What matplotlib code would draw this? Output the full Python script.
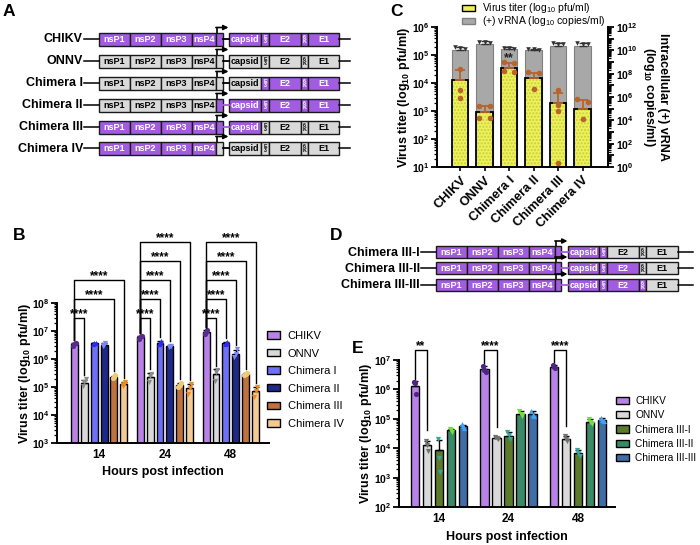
import numpy as np
import matplotlib
matplotlib.use("Agg")
import matplotlib.pyplot as plt
from matplotlib.patches import Rectangle, Patch
from matplotlib.ticker import LogLocator, FuncFormatter, NullFormatter

W, H = 700, 545
plt.rcParams['font.family'] = ['Liberation Sans', 'DejaVu Sans']
plt.rcParams['mathtext.fontset'] = 'custom'
plt.rcParams['mathtext.rm'] = 'Liberation Sans'
plt.rcParams['mathtext.bf'] = 'Liberation Sans:bold'
plt.rcParams['mathtext.it'] = 'Liberation Sans:italic'

# ---------------- data ----------------
seg_labels = ["nsP1", "nsP2", "nsP3", "nsP4", "", "", "capsid", "E3", "E2", "6K", "E1"]
a_constructs = ["CHIKV", "ONNV", "Chimera I", "Chimera II", "Chimera III", "Chimera IV"]
a_origin = ["CCCCCOCCCCC", "OOOOOOOOOOO", "OOOOOOOCCCC",
            "OOOOCCCCCCC", "CCCCCCCOOOO", "CCCCOOOOOOO"]
d_constructs = ["Chimera III-I", "Chimera III-II", "Chimera III-III"]
d_origin = ["CCCCCCCCOOO", "CCCCCCCCCOO", "CCCCCCCCCCO"]

hours = ["14", "24", "48"]

b_viruses = ["CHIKV", "ONNV", "Chimera I", "Chimera II", "Chimera III", "Chimera IV"]
b_means = [[3.4e6, 6.0e6, 9.5e6],
           [1.4e5, 2.3e5, 3.0e5],
           [3.6e6, 3.8e6, 3.7e6],
           [3.2e6, 2.8e6, 1.5e6],
           [2.3e5, 1.2e5, 2.9e5],
           [1.3e5, 9.0e4, 7.0e4]]
b_reps = [[[3.0e6, 3.5e6, 3.7e6], [5.2e6, 6.0e6, 6.8e6], [8.0e6, 9.5e6, 1.1e7]],
          [[1.1e5, 1.5e5, 1.9e5], [1.5e5, 2.5e5, 3.0e5], [1.6e5, 3.5e5, 4.0e5]],
          [[3.4e6, 3.6e6, 3.8e6], [3.3e6, 3.8e6, 4.4e6], [3.5e6, 3.7e6, 3.9e6]],
          [[2.8e6, 3.2e6, 3.6e6], [2.6e6, 2.8e6, 3.0e6], [1.2e6, 1.5e6, 2.3e6]],
          [[2.1e5, 2.3e5, 2.6e5], [1.0e5, 1.2e5, 1.4e5], [2.7e5, 2.9e5, 3.1e5]],
          [[1.1e5, 1.3e5, 1.5e5], [5.5e4, 9.0e4, 1.3e5], [4.5e4, 7.0e4, 1.0e5]]]
b_sig = [[1, 4, 5], [1, 2, 3, 4, 5], [1, 2, 3, 4, 5]]
b_sig_text = "****"

c_names = ["CHIKV", "ONNV", "Chimera I", "Chimera II", "Chimera III", "Chimera IV"]
c_titer = [1.3e4, 9.0e2, 3.5e4, 1.5e4, 1.9e3, 1.2e3]
c_titer_hi = [2.8e4, 1.5e3, 5.2e4, 2.3e4, 4.5e3, 2.4e3]
c_titer_pts = [[3.2e4, 5.6e3, 3.0e3], [1.5e3, 1.5e3, 5.6e2, 5.6e2],
               [5.5e4, 5.0e4, 2.7e4, 2.5e4], [2.5e4, 2.3e4, 6.1e3],
               [5.5e3, 1.6e3, 1.0e3, 14], [2.6e3, 2.1e3, 5.0e2]]
c_rna = [1.1e10, 3.2e10, 1.2e10, 1.0e10, 2.2e10, 2.2e10]
c_rna_hi = [2.0e10, 6.0e10, 1.8e10, 1.4e10, 4.5e10, 4.5e10]
c_rna_pts = [[1.8e10, 1.6e10, 1.4e10], [5.5e10, 5.0e10, 4.5e10],
             [1.6e10, 1.5e10, 1.4e10], [1.3e10, 1.2e10, 1.1e10],
             [4.0e10, 3.6e10, 3.2e10], [4.0e10, 3.6e10, 3.2e10]]
c_sig_text = "**"

e_viruses = ["CHIKV", "ONNV", "Chimera III-I", "Chimera III-II", "Chimera III-III"]
e_means = [[1.3e6, 5.0e6, 6.0e6],
           [1.3e4, 2.2e4, 2.1e4],
           [8.5e3, 2.7e4, 7.0e3],
           [4.0e4, 1.5e5, 8.0e4],
           [5.5e4, 1.45e5, 9.0e4]]
e_reps = [[[1.8e6, 1.6e6, 7.0e5], [6.5e6, 4.5e6, 4.0e6], [7.0e6, 6.0e6, 5.5e6]],
          [[1.8e4, 1.3e4, 8.0e3], [2.4e4, 2.2e4, 2.0e4], [2.6e4, 2.0e4, 1.8e4]],
          [[2.0e4, 4.5e3, 1.5e3], [3.5e4, 2.8e4, 2.0e4], [9.0e3, 7.0e3, 5.5e3]],
          [[4.5e4, 4.0e4, 3.5e4], [1.8e5, 1.5e5, 1.2e5], [1.0e5, 8.0e4, 6.5e4]],
          [[6.5e4, 5.5e4, 5.0e4], [1.9e5, 1.4e5, 1.2e5], [1.1e5, 9.0e4, 8.5e4]]]
e_sig_text = ["**", "****", "****"]

# ---------------- styles ----------------
PURPLE = '#A25CE2'
LGRAY = '#D9D9D9'
b_colors = ['#B982E6', '#D9D9D9', '#6F6FF7', '#1F2A88', '#C0713C', '#F2CB94']
b_pt_colors = ['#5A2A8A', '#8A8A8A', '#2B2BF0', '#7C86F5', '#F0C878', '#F08A1E']
b_markers = ['o', 'v', '^', 'v', 'o', 'v']
e_colors = ['#B982E6', '#D9D9D9', '#5B7A2B', '#3A8A68', '#3F6DA6']
e_pt_colors = ['#4E2585', '#707070', '#38A59A', '#6FE03A', '#3FA3F2']
e_markers = ['o', 'v', 'v', 'v', '^']

fig = plt.figure(figsize=(W / 100, H / 100), dpi=100)


def fx(x):
    return x / W


def fy(y):
    return 1 - y / H


def add_ax(x0, y0, x1, y1):
    return fig.add_axes([fx(x0), fy(y1), (x1 - x0) / W, (y1 - y0) / H])


# overlay axes in pixel coordinates for diagrams
ov = fig.add_axes([0, 0, 1, 1])
ov.set_xlim(0, W)
ov.set_ylim(H, 0)
ov.axis('off')


def draw_genome(name, origin, segx, yc, h, x_lead, x_tail, fs_name=9):
    ov.text(x_lead - 1, yc + 0.5, name, ha='right', va='center', fontsize=fs_name,
            fontweight='bold')
    ov.plot([x_lead, segx[0][0]], [yc, yc], color='black', lw=1.1)
    ov.plot([segx[-1][1], x_tail], [yc, yc], color='black', lw=1.1)
    for i, (lab, org, (x0, x1)) in enumerate(zip(seg_labels, origin, segx)):
        col = PURPLE if org == 'C' else LGRAY
        if i == 5:  # connector line
            ov.plot([x0, x1], [yc, yc], color=(PURPLE if org == 'C' else 'black'), lw=1.3)
            continue
        ov.add_patch(Rectangle((x0, yc - h / 2), x1 - x0, h, facecolor=col,
                               edgecolor='#1a1a1a', lw=1.0))
        tcol = 'white' if org == 'C' else 'black'
        if lab in ("E3", "6K"):
            ov.text((x0 + x1) / 2, yc + 0.3, lab[0] + "\n" + lab[1], ha='center', va='center',
                    fontsize=3.8, fontweight='bold', color=tcol, linespacing=0.85)
        elif lab:
            ov.text((x0 + x1) / 2, yc + 0.4, lab, ha='center', va='center', fontsize=6.5,
                    fontweight='bold', color=tcol)
    # promoter arrow
    xa = segx[4][0] + 0.5
    ya = yc - h / 2 - 5
    ov.plot([xa, xa], [yc - h / 2, ya], color='black', lw=1.2, solid_capstyle='butt')
    ov.annotate('', xy=(xa + 12, ya), xytext=(xa - 0.6, ya),
                arrowprops=dict(arrowstyle='-|>', lw=1.2, color='black',
                                mutation_scale=7, shrinkA=0, shrinkB=0))


segA = [(99, 130), (130, 161), (161, 192), (192, 216), (216, 223), (223, 229),
        (229, 261), (261, 269), (269, 301), (301, 308), (308, 339)]
rowsA = [39, 61, 83, 105, 127, 148]
for nm, org, yc in zip(a_constructs, a_origin, rowsA):
    draw_genome(nm, org, segA, yc, 13, 84, 350)

segD = [(436, 467), (467, 498), (498, 529), (529, 555), (555, 561), (561, 568),
        (568, 599), (599, 607), (607, 639), (639, 646), (646, 678)]
rowsD = [252, 268, 285]
for nm, org, yc in zip(d_constructs, d_origin, rowsD):
    draw_genome(nm, org, segD, yc, 12, 421, 693)

# panel letters
for lab, x, y in [("A", 3, 15.5), ("B", 13, 240), ("C", 390, 16.5), ("D", 330, 240), ("E", 352, 353)]:
    fig.text(fx(x), fy(y), lab, fontsize=12.5, fontweight='bold', ha='left', va='baseline')


def logfmt(v, _):
    return r"$\mathbf{10^{%d}}$" % int(round(np.log10(v)))


def style_log_axis(ax, fs=7.5):
    ax.set_yscale('log')
    ax.yaxis.set_major_locator(LogLocator(base=10, numticks=20))
    ax.yaxis.set_minor_locator(LogLocator(base=10, subs=np.arange(2, 10), numticks=20))
    ax.yaxis.set_major_formatter(FuncFormatter(logfmt))
    ax.yaxis.set_minor_formatter(NullFormatter())
    ax.tick_params(axis='y', which='major', length=4, width=1.3, labelsize=fs, pad=1.5)
    ax.tick_params(axis='y', which='minor', length=2.2, width=0.9)
    for s in ['top', 'right']:
        ax.spines[s].set_visible(False)
    for s in ['left', 'bottom']:
        ax.spines[s].set_linewidth(1.4)


def spread_offsets(vals, w):
    lv = np.log10(np.asarray(vals, float))
    order = np.argsort(-lv)
    offs = np.zeros(len(vals))
    groups = [[order[0]]]
    for idx in order[1:]:
        if abs(lv[idx] - lv[groups[-1][-1]]) < 0.12:
            groups[-1].append(idx)
        else:
            groups.append([idx])
    for g in groups:
        if len(g) > 1:
            for k, idx in enumerate(g):
                offs[idx] = np.linspace(-w, w, len(g))[k]
    return offs


def grouped_bars(ax, names, means, reps, colors, pcolors, markers, pitch, width):
    n = len(names)
    xs_all = []
    for j in range(n):
        x = np.arange(len(hours)) + (j - (n - 1) / 2) * pitch
        xs_all.append(x)
        m = np.array(means[j])
        ax.bar(x, m, width, color=colors[j], edgecolor='black', lw=1.0, zorder=2)
        sd = np.array([np.std(r, ddof=1) for r in reps[j]])
        ax.errorbar(x, m, yerr=[np.zeros_like(sd), sd], fmt='none', ecolor='black',
                    elinewidth=1.0, capsize=2, capthick=1.0, zorder=3)
        for k in range(len(hours)):
            offs = np.array([-0.02, 0.0, 0.02])
            ax.scatter(x[k] + offs, reps[j][k], s=14, marker=markers[j], color=pcolors[j],
                       zorder=4, linewidths=0, clip_on=False)
    return xs_all


def bracket(ax, x1, x2, y_left, y_right, top, text, fs=8.5):
    ax.plot([x1, x1, x2, x2], [y_left, top, top, y_right], color='black', lw=1.0,
            clip_on=False, zorder=5)
    ax.text((x1 + x2) / 2, top * 10 ** 0.03, text, ha='center', va='baseline',
            fontsize=fs, fontweight='bold', clip_on=False)


# ---------------- panel B ----------------
axB = add_ax(57, 303, 269, 443)
style_log_axis(axB)
axB.set_ylim(1e3, 1e8)
axB.set_xlim(-0.64, 2.58)
xsB = grouped_bars(axB, b_viruses, b_means, b_reps, b_colors, b_pt_colors, b_markers,
                   0.15, 0.105)
axB.set_xticks(range(3))
axB.set_xticklabels(hours, fontweight='bold', fontsize=8.5)
axB.tick_params(axis='x', length=0, pad=4)
for t, targets in enumerate(b_sig):
    for lvl, tgt in enumerate(targets):
        top = 10 ** (7.46 + 0.68 * lvl)
        yl = max(b_reps[0][t]) * 10 ** 0.1
        yr = max(b_reps[tgt][t]) * 10 ** 0.15
        bracket(axB, xsB[0][t], xsB[tgt][t], yl, yr, top, b_sig_text)
fig.text(fx(25), fy(373), r"Virus titer (log$_{\mathbf{10}}$ pfu/ml)", rotation=90,
         ha='center', va='center', fontsize=9, fontweight='bold')
fig.text(fx(163), fy(472), "Hours post infection", ha='center', va='center',
         fontsize=9, fontweight='bold')
axB.legend(handles=[Patch(facecolor=c, edgecolor='black', lw=1.0) for c in b_colors],
           labels=b_viruses, loc='upper left', bbox_to_anchor=(fx(267), fy(331)),
           bbox_transform=fig.transFigure, frameon=False, fontsize=8, handlelength=1.15,
           handleheight=0.65, handletextpad=0.7, labelspacing=0.68, borderaxespad=0,
           borderpad=0)

# ---------------- panel C ----------------
axC = add_ax(437, 27, 608, 167)
axC2 = axC.twinx()
style_log_axis(axC, fs=7.5)
axC.set_ylim(10, 1e6)
axC2.set_yscale('log')
axC2.set_ylim(1, 1e12)
axC2.yaxis.set_major_locator(LogLocator(base=10, numticks=20))
axC2.yaxis.set_minor_locator(LogLocator(base=10, subs=np.arange(2, 10), numticks=20))
axC2.yaxis.set_major_formatter(FuncFormatter(
    lambda v, _: logfmt(v, _) if int(round(np.log10(v))) % 2 == 0 else ""))
axC2.yaxis.set_minor_formatter(NullFormatter())
axC2.tick_params(axis='y', which='major', length=4, width=1.3, labelsize=7.5, pad=1.5)
axC2.tick_params(axis='y', which='minor', length=2.2, width=0.9)
for s in ['top', 'left']:
    axC2.spines[s].set_visible(False)
axC2.spines['right'].set_linewidth(1.4)
axC2.spines['bottom'].set_visible(False)
axC.set_zorder(axC2.get_zorder() + 1)
axC.patch.set_visible(False)

xc = np.arange(len(c_names))
bw = 0.66
axC.set_xlim(-0.94, 6.04)
axC2.set_xlim(-0.94, 6.04)
axC2.bar(xc, c_rna, bw, color='#A8A8A8', edgecolor='#808080', lw=0.8, zorder=1)
c_rna_arr = np.array(c_rna)
axC2.errorbar(xc, c_rna_arr, yerr=[np.zeros(6), np.array(c_rna_hi) - c_rna_arr], fmt='none',
              ecolor='#333333', elinewidth=1.0, capsize=3, capthick=1.0, zorder=3)
for i in range(6):
    offs = spread_offsets(c_rna_pts[i], 0.22)
    axC2.scatter(xc[i] + offs, c_rna_pts[i], marker='v', s=11, color='#333333',
                 linewidths=0, zorder=4)

axC.bar(xc, c_titer, bw, color='#EDF25C', edgecolor='#C9CD3A', hatch='.....', lw=0, zorder=2)
axC.bar(xc, c_titer, bw, color='none', edgecolor='black', lw=1.3, zorder=3)
c_t = np.array(c_titer)
axC.errorbar(xc, c_t, yerr=[np.zeros(6), np.array(c_titer_hi) - c_t], fmt='none',
             ecolor='#B8642A', elinewidth=1.3, capsize=3.5, capthick=1.3, zorder=4)
for i in range(6):
    offs = spread_offsets(c_titer_pts[i], 0.22)
    axC.scatter(xc[i] + offs, c_titer_pts[i], marker='o', s=16, color='#B8642A',
                linewidths=0, zorder=5, clip_on=False)
axC.text(xc[2], 10 ** 4.79, c_sig_text, ha='center', va='baseline', fontsize=9,
         fontweight='bold', color='#222222', zorder=6)
axC.set_xticks(xc)
axC.set_xticklabels(c_names, rotation=45, ha='right', rotation_mode='anchor',
                    fontsize=9.3, fontweight='bold')
axC.tick_params(axis='x', length=3, width=1.2, pad=2)
axC.spines['right'].set_visible(False)
fig.text(fx(404), fy(97), r"Virus titer (log$_{\mathbf{10}}$ pfu/ml)", rotation=90,
         ha='center', va='center', fontsize=9, fontweight='bold')
fig.text(fx(655), fy(97), "Intracellular (+) vRNA\n" + r"(log$_{\mathbf{10}}$ copies/ml)",
         rotation=270, ha='center', va='center', fontsize=9, fontweight='bold',
         multialignment='center', linespacing=1.05)
# C legend
fig.patches.append(Rectangle((fx(462), fy(11)), 13 / W, 6 / H, facecolor='#EDF25C',
                             edgecolor='black', lw=1.0, transform=fig.transFigure))
fig.patches.append(Rectangle((fx(462), fy(24)), 13 / W, 6 / H, facecolor='#A8A8A8',
                             edgecolor='#808080', lw=1.0, transform=fig.transFigure))
fig.text(fx(482), fy(8), r"Virus titer (log$_{10}$ pfu/ml)", ha='left', va='center',
         fontsize=7.5)
fig.text(fx(482), fy(21), r"(+) vRNA (log$_{10}$ copies/ml)", ha='left', va='center',
         fontsize=7.5)

# ---------------- panel E ----------------
axE = add_ax(399, 360, 615, 507)
style_log_axis(axE)
axE.set_ylim(1e2, 1e7)
axE.set_xlim(-0.575, 2.53)
xsE = grouped_bars(axE, e_viruses, e_means, e_reps, e_colors, e_pt_colors, e_markers,
                   0.173, 0.122)
axE.set_xticks(range(3))
axE.set_xticklabels(hours, fontweight='bold', fontsize=8.5)
axE.tick_params(axis='x', length=0, pad=4)
for t in range(3):
    yl = max(e_reps[0][t]) * 10 ** 0.1
    yr = max(e_reps[1][t]) * 10 ** 0.35
    bracket(axE, xsE[0][t], xsE[1][t], yl, yr, 10 ** 7.34, e_sig_text[t])
fig.text(fx(366), fy(433), r"Virus titer (log$_{\mathbf{10}}$ pfu/ml)", rotation=90,
         ha='center', va='center', fontsize=9, fontweight='bold')
fig.text(fx(507), fy(537), "Hours post infection", ha='center', va='center',
         fontsize=9, fontweight='bold')
axE.legend(handles=[Patch(facecolor=c, edgecolor='black', lw=1.0) for c in e_colors],
           labels=e_viruses, loc='upper left', bbox_to_anchor=(fx(616), fy(396)),
           bbox_transform=fig.transFigure, frameon=False, fontsize=7.3, handlelength=1.3,
           handleheight=0.7, handletextpad=0.6, labelspacing=0.42, borderaxespad=0,
           borderpad=0)

fig.savefig("out.png", dpi=100)
